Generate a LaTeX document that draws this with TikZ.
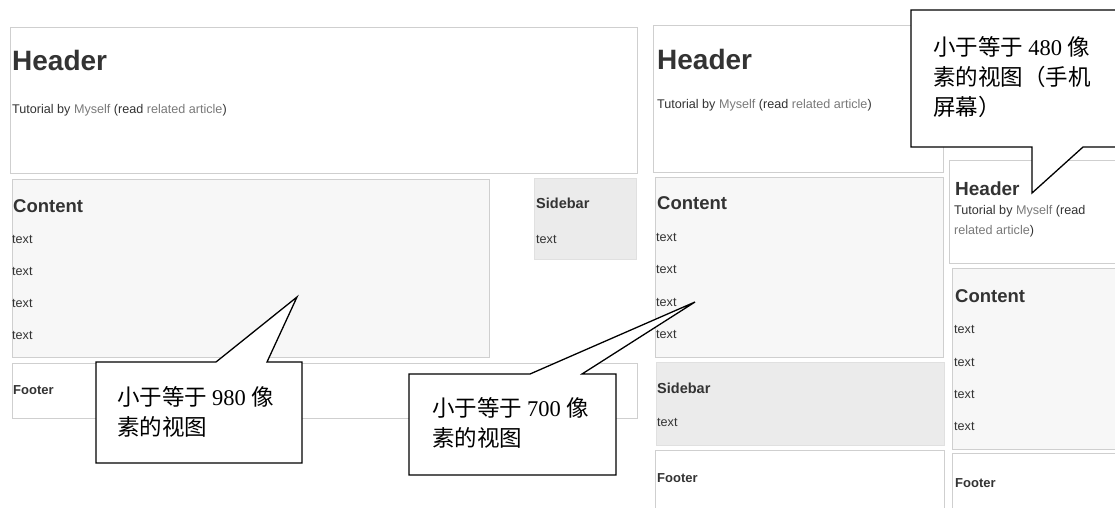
\documentclass[tikz,border=0pt]{standalone}
\usepackage{fontspec}
\setmainfont{Liberation Sans}
\newfontfamily\cjk{Noto Sans CJK SC}
\newfontfamily\tnr{Liberation Serif}
\definecolor{boxline}{HTML}{CFCFCF}
\definecolor{contentbg}{HTML}{F7F7F7}
\definecolor{sidebg}{HTML}{EBEBEB}
\definecolor{txt}{HTML}{333333}
\definecolor{lnk}{HTML}{7A7A7A}
\tikzset{
  panelbox/.style={draw=boxline, line width=0.8pt},
  contentbox/.style={panelbox, fill=contentbg},
  sidebox/.style={draw=sidebg!90!gray, line width=0.5pt, fill=sidebg},
  calloutshape/.style={draw=black, line width=1.3pt, fill=white, line join=miter},
  lbl/.style={anchor=base west, inner sep=0pt, text=txt},
  hbig/.style={lbl, font=\fontsize{28}{30}\selectfont\bfseries},
  hsmall/.style={lbl, font=\fontsize{19}{21}\selectfont\bfseries},
  hcontent/.style={lbl, font=\fontsize{18.5}{20}\selectfont\bfseries},
  hside/.style={lbl, font=\fontsize{14.5}{16}\selectfont\bfseries},
  hfoot/.style={lbl, font=\fontsize{13}{15}\selectfont\bfseries},
  body/.style={lbl, font=\fontsize{12.6}{20}\selectfont},
  ctext/.style={anchor=west, inner sep=0pt, align=left, text=black, font=\fontsize{22.5}{30}\selectfont\cjk}
}
\begin{document}
\begin{tikzpicture}[x=1pt, y=-1pt]
\useasboundingbox (0,0) rectangle (1115,507);
\clip (0,0) rectangle (1115,507);
\fill[white] (0,0) rectangle (1115,507);

% ---------- Panel 1 (<=980) ----------
\draw[panelbox] (10,27) rectangle (637,173);
\draw[contentbox] (12,179) rectangle (489,357);
\draw[sidebox] (534,178) rectangle (636,259);
\draw[panelbox] (12,363) rectangle (637,418);
\node[hbig] (p1h) at (12,70) {Header};
\node[body] (p1t) at (12,113) {Tutorial by \textcolor{lnk}{Myself} (read \textcolor{lnk}{related article})};
\node[hcontent] (p1c) at (13,212) {Content};
\node[body] (p1a) at (12,243) {text};
\node[body] (p1b) at (12,275) {text};
\node[body] (p1d) at (12,307) {text};
\node[body] (p1e) at (12,339) {text};
\node[hside] (p1s) at (536,208) {Sidebar};
\node[body] (p1st) at (536,243) {text};
\node[hfoot] (p1f) at (13,394) {Footer};

% ---------- Panel 2 (<=700) ----------
\draw[panelbox] (653,25) rectangle (943,172);
\draw[contentbox] (655,177) rectangle (943,357);
\draw[sidebox] (656,362) rectangle (944,445);
\draw[panelbox] (655,450) rectangle (944,520);
\node[hbig] (p2h) at (657,69) {Header};
\node[body] (p2t) at (657,108) {Tutorial by \textcolor{lnk}{Myself} (read \textcolor{lnk}{related article})};
\node[hcontent] (p2c) at (657,209) {Content};
\node[body] (p2a) at (656,241) {text};
\node[body] (p2b) at (656,273) {text};
\node[body] (p2d) at (656,306) {text};
\node[body] (p2e) at (656,338) {text};
\node[hside] (p2s) at (657,393) {Sidebar};
\node[body] (p2st) at (657,426) {text};
\node[hfoot] (p2f) at (657,482) {Footer};

% ---------- Panel 3 (<=480) ----------
\draw[panelbox] (949,160) rectangle (1125,263);
\draw[contentbox] (952,268) rectangle (1125,449);
\draw[panelbox] (952,453) rectangle (1125,520);
\node[hsmall] (p3h) at (955,195) {Header};
\node[body] (p3t1) at (954,214) {Tutorial by \textcolor{lnk}{Myself} (read};
\node[body] (p3t2) at (954,234) {\textcolor{lnk}{related article})};
\node[hcontent] (p3c) at (955,302) {Content};
\node[body] (p3a) at (954,333) {text};
\node[body] (p3b) at (954,366) {text};
\node[body] (p3d) at (954,398) {text};
\node[body] (p3e) at (954,430) {text};
\node[hfoot] (p3f) at (955,487) {Footer};

% ---------- Callouts ----------
\draw[calloutshape] (96,362) -- (216,362) -- (297,297) -- (267,362) -- (302,362)
  -- (302,463) -- (96,463) -- cycle;
\node[ctext] (c1) at (117,412) {小于等于 {\tnr 980} 像\\素的视图};

\draw[calloutshape] (409,374) -- (530,374) -- (695,302) -- (582,374) -- (616,374)
  -- (616,475) -- (409,475) -- cycle;
\node[ctext] (c2) at (432,423) {小于等于 {\tnr 700} 像\\素的视图};

\draw[calloutshape] (911,10) -- (1130,10) -- (1130,147) -- (1083,147) -- (1032,193)
  -- (1032,147) -- (911,147) -- cycle;
\node[ctext] (c3) at (933,77) {小于等于 {\tnr 480} 像\\素的视图（手机\\屏幕）};
\end{tikzpicture}
\end{document}
